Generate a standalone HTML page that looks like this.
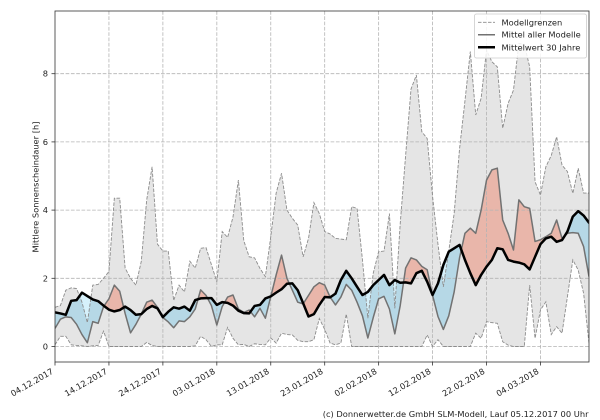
<!DOCTYPE html>
<html>
<head>
<meta charset="utf-8">
<style>
  html,body{margin:0;padding:0;background:#fff;}
  svg{display:block;}
  text{font-family:"DejaVu Sans","Liberation Sans",sans-serif;font-size:8.3px;fill:#222;}
</style>
</head>
<body>
<svg id="chart" width="600" height="420" viewBox="0 0 600 420" xmlns="http://www.w3.org/2000/svg">
  <rect x="0" y="0" width="600" height="420" fill="#fff"/>
  <defs>
    <clipPath id="ax"><rect x="55" y="11" width="534" height="351"/></clipPath>
    <clipPath id="belowMean"><path id="cpBelowMean" d=""/></clipPath>
    <clipPath id="belowBlack"><path id="cpBelowBlack" d=""/></clipPath>
    <clipPath id="aboveMax"><path id="cpAboveMax" d=""/></clipPath>
  </defs>

  <g clip-path="url(#ax)">
    <!-- min/max band -->
    <path id="band" d="" fill="#e5e5e5" stroke="none"/>
    <!-- red: below mean & above black -->
    <g clip-path="url(#belowMean)">
      <path id="redFill" d="" fill="#e9b6aa"/>
    </g>
    <!-- blue: below black & above mean -->
    <g clip-path="url(#belowBlack)">
      <path id="blueFill" d="" fill="#b6d8e6"/>
      <g clip-path="url(#aboveMax)">
        <path id="cyanFill" d="" fill="#d6f1fb"/>
      </g>
    </g>
    <!-- grid -->
    <g id="grid" stroke="#b4b4b4" stroke-width="0.8" stroke-dasharray="3.7,1.6" fill="none"></g>
    <!-- lines -->
    <path id="maxLine" d="" fill="none" stroke="#8c8c8c" stroke-width="0.9" stroke-dasharray="3.5,1.5"/>
    <path id="minLine" d="" fill="none" stroke="#8c8c8c" stroke-width="0.9" stroke-dasharray="3.5,1.5"/>
    <path id="meanLine" d="" fill="none" stroke="#727272" stroke-width="1.5" stroke-linejoin="round"/>
    <path id="blackLine" d="" fill="none" stroke="#000" stroke-width="2.5" stroke-linejoin="round" stroke-linecap="round"/>
  </g>

  <!-- spines -->
  <rect x="55" y="11" width="534" height="351" fill="none" stroke="#333" stroke-width="0.8"/>

  <!-- ticks -->
  <g id="ticks" stroke="#333" stroke-width="0.8"></g>

  <!-- y tick labels -->
  <text x="48" y="349.5" text-anchor="end">0</text>
  <text x="48" y="281.3" text-anchor="end">2</text>
  <text x="48" y="213.1" text-anchor="end">4</text>
  <text x="48" y="144.9" text-anchor="end">6</text>
  <text x="48" y="76.7" text-anchor="end">8</text>

  <!-- y axis label -->
  <text transform="translate(38.5,187) rotate(-90)" text-anchor="middle">Mittlere Sonnenscheindauer [h]</text>

  <!-- x tick labels -->
  <text transform="translate(54,373) rotate(-30)" text-anchor="end">04.12.2017</text>
  <text transform="translate(107.9,373) rotate(-30)" text-anchor="end">14.12.2017</text>
  <text transform="translate(161.9,373) rotate(-30)" text-anchor="end">24.12.2017</text>
  <text transform="translate(215.8,373) rotate(-30)" text-anchor="end">03.01.2018</text>
  <text transform="translate(269.8,373) rotate(-30)" text-anchor="end">13.01.2018</text>
  <text transform="translate(323.7,373) rotate(-30)" text-anchor="end">23.01.2018</text>
  <text transform="translate(377.6,373) rotate(-30)" text-anchor="end">02.02.2018</text>
  <text transform="translate(431.6,373) rotate(-30)" text-anchor="end">12.02.2018</text>
  <text transform="translate(485.5,373) rotate(-30)" text-anchor="end">22.02.2018</text>
  <text transform="translate(539.5,373) rotate(-30)" text-anchor="end">04.03.2018</text>

  <!-- legend -->
  <rect x="474.5" y="14" width="112" height="44" rx="2" ry="2" fill="#fff" fill-opacity="0.85" stroke="#cccccc" stroke-width="0.8"/>
  <line x1="478" y1="22.3" x2="495" y2="22.3" stroke="#8c8c8c" stroke-width="0.9" stroke-dasharray="3.5,1.5"/>
  <line x1="478" y1="34.7" x2="495" y2="34.7" stroke="#727272" stroke-width="1.5"/>
  <line x1="478" y1="47.3" x2="495" y2="47.3" stroke="#000" stroke-width="2.5"/>
  <text x="501.5" y="25.3">Modellgrenzen</text>
  <text x="501.5" y="37.7">Mittel aller Modelle</text>
  <text x="501.5" y="50.3">Mittelwert 30 Jahre</text>

  <!-- footer -->
  <text x="588.5" y="417" text-anchor="end">(c) Donnerwetter.de GmbH SLM-Modell, Lauf 05.12.2017 00 Uhr</text>
</svg>

<script>
(function(){
  var maxv=[1.15,1.2,1.65,1.72,1.7,1.3,0.7,1.8,1.82,2.0,
    2.2,4.35,4.35,2.3,2.0,1.8,2.5,4.3,5.27,3.0,
    2.8,2.8,1.35,1.8,1.6,2.5,2.3,2.88,2.9,2.4,
    1.9,3.37,3.2,3.8,4.88,3.1,2.63,2.6,2.29,2.05,
    3.22,4.5,5.08,4.0,3.76,3.56,2.63,3.17,4.22,3.9,
    3.37,3.3,3.17,3.15,3.13,4.1,4.05,2.54,0.83,2.15,
    2.78,2.8,3.9,1.12,3.6,5.6,7.55,7.96,6.3,6.1,
    4.4,3.0,1.75,2.8,3.9,5.8,7.2,8.65,6.79,7.28,
    8.69,8.35,8.2,6.4,7.13,7.52,8.89,8.86,8.2,4.83,
    4.44,5.27,5.6,6.15,5.32,5.13,4.49,5.23,4.5,4.5];
  var minv=[0.05,0.3,0.3,0.05,0.03,0.02,0,0.02,0.03,0.45,
    0,0,0,0,0,0,0,0.12,0.03,0,
    0,0,0,0,0,0,0.02,0.3,0.2,0,
    0.05,0.05,0.56,0.24,0.05,0.06,0,0.08,0.06,0.05,
    0.25,0.1,0.39,0.35,0.34,0.18,0.14,0.14,0.2,0.82,
    0.5,0.1,0.05,0.1,0.95,0,0,0,0,0,
    0,0,0,0,0,0,0,0,0,0.34,
    0,0.2,0,0,0,0,0,0,0.39,0.24,
    0.73,0.7,0.68,0.14,0.04,0,0,0,1.8,0.24,
    1.07,1.31,0.35,0.58,0.39,1.46,2.54,2.24,1.56,0.1];
  var meanv=[0.53,0.8,0.87,0.85,0.65,0.35,0.11,0.73,0.68,1.17,
    1.4,1.8,1.62,0.97,0.4,0.65,0.95,1.3,1.36,1.15,
    0.85,0.72,0.55,0.75,0.73,0.87,1.1,1.66,1.5,1.2,
    0.63,1.17,1.45,1.51,1.1,1.0,1.07,0.87,1.12,0.83,
    1.46,2.1,2.68,2.0,1.65,1.3,1.25,1.5,1.75,1.87,
    1.8,1.45,1.22,1.45,1.82,1.65,1.3,0.9,0.25,0.85,
    1.4,1.47,1.1,0.37,1.2,2.3,2.6,2.54,2.35,2.25,
    1.5,0.88,0.5,0.9,1.6,2.6,3.32,3.47,3.32,4.0,
    4.88,5.18,5.23,3.71,3.32,2.83,4.3,4.1,4.05,3.08,
    3.13,3.22,3.32,3.71,3.17,3.32,3.34,3.32,2.93,2.05];
  var blackv=[1.0,0.97,0.93,1.34,1.36,1.58,1.48,1.38,1.33,1.2,
    1.08,1.03,1.07,1.17,1.07,0.93,0.95,1.1,1.19,1.12,
    0.86,1.02,1.15,1.11,1.17,1.05,1.36,1.41,1.42,1.42,
    1.22,1.3,1.28,1.2,1.05,0.98,0.97,1.19,1.22,1.41,
    1.47,1.58,1.68,1.84,1.85,1.65,1.27,0.88,0.95,1.22,
    1.45,1.44,1.55,1.95,2.22,2.0,1.75,1.51,1.6,1.8,
    1.95,2.1,1.8,1.95,1.87,1.88,1.85,2.15,2.22,1.9,
    1.51,1.85,2.39,2.78,2.88,2.98,2.54,2.15,1.8,2.1,
    2.34,2.54,2.88,2.85,2.54,2.49,2.46,2.41,2.26,2.63,
    3.0,3.17,3.22,3.07,3.12,3.37,3.81,3.97,3.84,3.63];

  function X(d){return 55+d*534/99;}
  function Y(v){return 346.5-34.1*v;}
  function pts(a){var r=[];for(var i=0;i<a.length;i++){r.push(X(i).toFixed(2)+','+Y(a[i]).toFixed(2));}return r;}
  function line(a){return 'M'+pts(a).join(' L');}
  var TOP=0, BOT=420;
  function above(a){return 'M'+X(0).toFixed(2)+','+TOP+' L'+pts(a).join(' L')+' L'+X(a.length-1).toFixed(2)+','+TOP+' Z';}
  function below(a){return 'M'+X(0).toFixed(2)+','+BOT+' L'+pts(a).join(' L')+' L'+X(a.length-1).toFixed(2)+','+BOT+' Z';}
  function set(id,d){document.getElementById(id).setAttribute('d',d);}

  // band
  var p1=pts(maxv), p2=pts(minv).reverse();
  set('band','M'+p1.join(' L')+' L'+p2.join(' L')+' Z');
  set('cpBelowMean',below(meanv));
  set('cpBelowBlack',below(blackv));
  set('cpAboveMax',above(maxv));
  set('redFill',above(blackv));
  set('blueFill',above(meanv));
  set('cyanFill',above(meanv));
  set('maxLine',line(maxv));
  set('minLine',line(minv));
  set('meanLine',line(meanv));
  set('blackLine',line(blackv));

  var ns='http://www.w3.org/2000/svg';
  var grid=document.getElementById('grid');
  var ticks=document.getElementById('ticks');
  function ln(g,x1,y1,x2,y2){var e=document.createElementNS(ns,'line');e.setAttribute('x1',x1);e.setAttribute('y1',y1);e.setAttribute('x2',x2);e.setAttribute('y2',y2);g.appendChild(e);}
  for(var v=0;v<=8;v+=2){var y=Y(v);ln(grid,55,y,589,y);ln(ticks,51.5,y,55,y);}
  for(var d=0;d<=90;d+=10){var x=X(d);if(d>0)ln(grid,x,11,x,362);ln(ticks,x,362,x,365.5);}
})();
</script>
</body>
</html>
